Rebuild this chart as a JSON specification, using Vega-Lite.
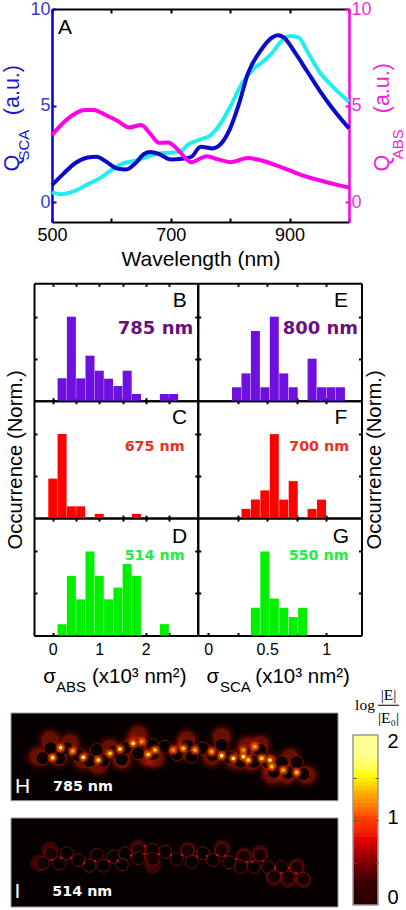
{"$schema":"https://vega.github.io/schema/vega-lite/v6.json","background":"white","width":406,"height":910,"padding":0,"autosize":{"type":"none"},"config":{"view":{"stroke":null},"font":"Liberation Sans","axis":{"grid":false}},"resolve":{"scale":{"x":"independent","y":"independent"},"axis":{"x":"independent","y":"independent"}},"datasets":{"rings":[{"x":31.7,"y":45.3},{"x":39.7,"y":35.3},{"x":48.3,"y":45.3},{"x":55.7,"y":35.3},{"x":67.3,"y":42},{"x":78.3,"y":47.7},{"x":85.7,"y":37},{"x":92.3,"y":47.7},{"x":102.3,"y":38.7},{"x":110.7,"y":46.3},{"x":114,"y":35.3},{"x":127.3,"y":32},{"x":127.3,"y":40.3},{"x":141.7,"y":32},{"x":141.7,"y":41},{"x":154,"y":33.7},{"x":165.7,"y":41},{"x":176.3,"y":32.7},{"x":180.7,"y":43.7},{"x":191.7,"y":35.3},{"x":201.7,"y":42},{"x":210.7,"y":32},{"x":218.3,"y":44.3},{"x":233,"y":38.7},{"x":229.7,"y":48.7},{"x":249,"y":37},{"x":243,"y":48.7},{"x":257.3,"y":49.3},{"x":270.7,"y":49.3},{"x":285.7,"y":49.3},{"x":263,"y":58.7},{"x":277.3,"y":59.7},{"x":292.3,"y":61}],"halosH":[{"x":39,"y":27},{"x":59,"y":30.3},{"x":27.3,"y":43.7},{"x":47,"y":43.7},{"x":72,"y":47},{"x":87.3,"y":52},{"x":99,"y":35.3},{"x":110.7,"y":47},{"x":127.3,"y":22},{"x":135.7,"y":43.7},{"x":144,"y":45.3},{"x":122,"y":32},{"x":175.7,"y":27},{"x":172.3,"y":37},{"x":210.7,"y":23.7},{"x":200.7,"y":43.7},{"x":235.7,"y":33.7},{"x":249,"y":32},{"x":224,"y":47},{"x":239,"y":48.7},{"x":259,"y":50.3},{"x":260.7,"y":62},{"x":275.7,"y":62},{"x":295.7,"y":62},{"x":279,"y":45}],"spotsH":[{"x":41.7,"y":44.7,"v":1.6},{"x":49.7,"y":34.7,"v":1.6},{"x":61.7,"y":38,"v":1.3},{"x":72.3,"y":44.3,"v":1.6},{"x":87.3,"y":47,"v":1.6},{"x":99,"y":40.3,"v":1.4},{"x":109,"y":36,"v":1.6},{"x":122.3,"y":30.3,"v":1.6},{"x":137.3,"y":41.3,"v":1.5},{"x":144,"y":37,"v":1.4},{"x":130.7,"y":28.7,"v":1.2},{"x":162.3,"y":37,"v":1.2},{"x":172.3,"y":35.3,"v":1.4},{"x":184,"y":37,"v":1.3},{"x":200.7,"y":38.7,"v":1.3},{"x":210.7,"y":42.7,"v":1.6},{"x":222.3,"y":45.3,"v":1.6},{"x":232.3,"y":43.7,"v":1.6},{"x":237.3,"y":47,"v":1.5},{"x":244,"y":33.7,"v":1.3},{"x":250.7,"y":45.3,"v":1.5},{"x":259,"y":47,"v":1.6},{"x":260.7,"y":53.7,"v":1.4},{"x":272.3,"y":57,"v":1.3},{"x":285.7,"y":59.3,"v":1.4},{"x":232.3,"y":37,"v":1.2}]},"layer":[{"resolve":{"axis":{"x":"independent","y":"independent"}},"layer":[{"data":{"values":[{"w":500,"v":0.5},{"w":515,"v":0.41},{"w":535,"v":0.54},{"w":560,"v":0.92},{"w":580,"v":1.23},{"w":600,"v":1.66},{"w":620,"v":2.0},{"w":640,"v":2.14},{"w":660,"v":2.35},{"w":680,"v":2.52},{"w":700,"v":2.56},{"w":715,"v":2.6},{"w":730,"v":3.0},{"w":750,"v":3.25},{"w":765,"v":3.42},{"w":780,"v":3.9},{"w":800,"v":4.94},{"w":820,"v":6.15},{"w":840,"v":6.93},{"w":855,"v":7.27},{"w":870,"v":7.7},{"w":885,"v":8.3},{"w":900,"v":8.6},{"w":915,"v":8.53},{"w":930,"v":7.79},{"w":950,"v":6.75},{"w":970,"v":6.06},{"w":1000,"v":5.2}]},"mark":{"type":"line","color":"#22eeee","strokeWidth":4,"interpolate":"monotone"},"encoding":{"x":{"field":"w","type":"quantitative","scale":{"domain":[500,1000],"range":[52,349],"nice":false},"axis":{"orient":"bottom","offset":-688,"values":[500,600,700,800,900,1000],"labelExpr":"datum.value==500||datum.value==700||datum.value==900?datum.label:''","labelFontSize":18,"labelColor":"black","tickSize":-4,"tickWidth":2,"tickColor":"black","domainColor":"black","domainWidth":2,"labelPadding":8,"labelFlush":false,"title":"Wavelength (nm)","titleFontSize":21,"titleFontWeight":"normal","titleColor":"black","titlePadding":4,"labelOverlap":false}},"y":{"field":"v","type":"quantitative","scale":{"domain":[-1.03,10],"range":[222,9],"nice":false},"axis":{"orient":"left","offset":-52,"values":[0,5,10],"labelFontSize":18,"labelColor":"#3a3ad0","tickSize":-4,"tickWidth":2,"tickColor":"#0505c8","domainColor":"#0505c8","domainWidth":2.5,"labelPadding":6,"title":null,"labelFlush":false,"labelOverlap":false}}}},{"data":{"values":[{"w":500,"v":0.88},{"w":520,"v":1.49},{"w":540,"v":2.04},{"w":560,"v":2.31},{"w":575,"v":2.35},{"w":590,"v":2.12},{"w":610,"v":1.74},{"w":625,"v":1.69},{"w":640,"v":2.0},{"w":655,"v":2.49},{"w":665,"v":2.59},{"w":680,"v":2.49},{"w":700,"v":2.21},{"w":720,"v":2.25},{"w":735,"v":2.35},{"w":750,"v":2.87},{"w":770,"v":2.78},{"w":785,"v":3.04},{"w":800,"v":3.82},{"w":815,"v":5.11},{"w":830,"v":6.67},{"w":850,"v":7.79},{"w":870,"v":8.51},{"w":880,"v":8.64},{"w":890,"v":8.53},{"w":910,"v":7.7},{"w":930,"v":6.75},{"w":950,"v":5.8},{"w":970,"v":4.94},{"w":1000,"v":3.82}]},"mark":{"type":"line","color":"#0a0ac8","strokeWidth":4,"interpolate":"monotone"},"encoding":{"x":{"field":"w","type":"quantitative","axis":null},"y":{"field":"v","type":"quantitative","axis":null}}},{"data":{"values":[{"w":500,"v":3.47},{"w":515,"v":3.99},{"w":535,"v":4.51},{"w":555,"v":4.77},{"w":570,"v":4.77},{"w":590,"v":4.51},{"w":610,"v":4.21},{"w":630,"v":3.87},{"w":650,"v":3.99},{"w":665,"v":3.56},{"w":680,"v":3.07},{"w":695,"v":3.09},{"w":710,"v":2.78},{"w":725,"v":2.26},{"w":735,"v":2.06},{"w":750,"v":2.26},{"w":760,"v":2.38},{"w":780,"v":2.21},{"w":800,"v":2.07},{"w":830,"v":2.28},{"w":850,"v":2.18},{"w":880,"v":1.88},{"w":920,"v":1.4},{"w":960,"v":1.05},{"w":1000,"v":0.76}]},"mark":{"type":"line","color":"#ff00e6","strokeWidth":4,"interpolate":"monotone"},"encoding":{"x":{"field":"w","type":"quantitative","axis":{"orient":"top","offset":-9,"values":[500,600,700,800,900,1000],"labels":false,"tickSize":-4,"tickWidth":2,"tickColor":"black","domainColor":"black","domainWidth":2,"title":null}},"y":{"field":"v","type":"quantitative","axis":{"orient":"right","offset":-57,"values":[0,5,10],"labelFontSize":18,"labelColor":"#ee30dd","tickSize":-4,"tickWidth":2,"tickColor":"#ff00e6","domainColor":"#ff00e6","domainWidth":2.5,"labelPadding":6,"title":null,"labelFlush":false,"labelOverlap":false}}}},{"data":{"values":[{"w":522,"v":9.0,"t":"A"}]},"mark":{"type":"text","fontSize":21,"color":"black"},"encoding":{"x":{"field":"w","type":"quantitative","axis":null},"y":{"field":"v","type":"quantitative","axis":null},"text":{"field":"t"}}},{"data":{"values":[{"w":434,"v":2.02,"t":"Q"},{"w":434,"v":5.8,"t":"(a.u.)"}]},"mark":{"type":"text","fontSize":21.5,"angle":270,"color":"#1818d0"},"encoding":{"x":{"field":"w","type":"quantitative","axis":null},"y":{"field":"v","type":"quantitative","axis":null},"text":{"field":"t"}}},{"data":{"values":[{"w":453,"v":2.95,"t":"SCA"}]},"mark":{"type":"text","fontSize":15,"angle":270,"color":"#1818d0"},"encoding":{"x":{"field":"w","type":"quantitative","axis":null},"y":{"field":"v","type":"quantitative","axis":null},"text":{"field":"t"}}},{"data":{"values":[{"w":1057,"v":2.02,"t":"Q"},{"w":1057,"v":5.9,"t":"(a.u.)"}]},"mark":{"type":"text","fontSize":21.5,"angle":270,"color":"#ee22dd"},"encoding":{"x":{"field":"w","type":"quantitative","axis":null},"y":{"field":"v","type":"quantitative","axis":null},"text":{"field":"t"}}},{"data":{"values":[{"w":1082,"v":3.0,"t":"ABS"}]},"mark":{"type":"text","fontSize":15,"angle":270,"color":"#ee22dd"},"encoding":{"x":{"field":"w","type":"quantitative","axis":null},"y":{"field":"v","type":"quantitative","axis":null},"text":{"field":"t"}}}]},{"resolve":{"axis":{"x":"independent","y":"independent"}},"layer":[{"data":{"values":[{"x":0.2,"y":0.266},{"x":0.4,"y":1},{"x":0.6,"y":0.266},{"x":0.8,"y":0.536},{"x":1.0,"y":0.357},{"x":1.2,"y":0.262},{"x":1.4,"y":0.175},{"x":1.6,"y":0.357},{"x":1.8,"y":0.08},{"x":2.4,"y":0.08},{"x":2.6,"y":0.08}]},"mark":{"type":"bar","size":9,"color":"#6f10e0"},"encoding":{"x":{"field":"x","type":"quantitative","scale":{"domain":[-0.297,3.011],"range":[34,197.75],"nice":false},"axis":{"orient":"bottom","offset":-509.3,"values":[0,0.5,1,1.5,2,2.5],"labels":false,"tickSize":-3,"tickWidth":2,"tickColor":"black","domainColor":"black","domainWidth":2,"title":null}},"y":{"field":"y","type":"quantitative","scale":{"domain":[0,1.3976],"range":[400.7,283.3],"nice":false},"axis":{"orient":"left","offset":-34,"values":[0.5,1],"labels":false,"tickSize":-3,"tickWidth":2,"tickColor":"black","domainColor":"black","domainWidth":2,"title":null}}}},{"data":{"values":[{"x":0.2,"y":0.266}]},"mark":{"type":"bar","size":9,"opacity":0},"encoding":{"x":{"field":"x","type":"quantitative","axis":{"orient":"top","offset":-283.3,"values":[0,0.5,1,1.5,2,2.5],"labels":false,"tickSize":-3,"tickWidth":2,"tickColor":"black","domainColor":"black","domainWidth":2,"title":null}},"y":{"field":"y","type":"quantitative","axis":{"orient":"right","offset":-208.25,"values":[0.5,1],"labels":false,"tickSize":-3,"tickWidth":2,"tickColor":"black","domainColor":"black","domainWidth":2,"title":null}}}},{"data":{"values":[{"x":2.73,"y":1.19,"t":"B"}]},"mark":{"type":"text","fontSize":21,"color":"black"},"encoding":{"x":{"field":"x","type":"quantitative","axis":null},"y":{"field":"y","type":"quantitative","axis":null},"text":{"field":"t"}}},{"data":{"values":[{"x":2.21,"y":0.85,"t":"785 nm"}]},"mark":{"type":"text","fontSize":18,"font":"DejaVu Sans","fontWeight":"bold","color":"#6a0f80"},"encoding":{"x":{"field":"x","type":"quantitative","axis":null},"y":{"field":"y","type":"quantitative","axis":null},"text":{"field":"t"}}}]},{"resolve":{"axis":{"x":"independent","y":"independent"}},"layer":[{"data":{"values":[{"x":0,"y":0.47},{"x":0.2,"y":1},{"x":0.4,"y":0.14},{"x":0.6,"y":0.14},{"x":1.0,"y":0.05},{"x":1.8,"y":0.05}]},"mark":{"type":"bar","size":9,"color":"#ff0000"},"encoding":{"x":{"field":"x","type":"quantitative","scale":{"domain":[-0.297,3.011],"range":[34,197.75],"nice":false},"axis":{"orient":"bottom","offset":-391.9,"values":[0,0.5,1,1.5,2,2.5],"labels":false,"tickSize":-3,"tickWidth":2,"tickColor":"black","domainColor":"black","domainWidth":2,"title":null}},"y":{"field":"y","type":"quantitative","scale":{"domain":[0,1.3976],"range":[518.1,400.7],"nice":false},"axis":{"orient":"left","offset":-34,"values":[0.5,1],"labels":false,"tickSize":-3,"tickWidth":2,"tickColor":"black","domainColor":"black","domainWidth":2,"title":"Occurrence (Norm.)","titleFontSize":20.3,"titleFontWeight":"normal","titleColor":"black","titlePadding":8}}}},{"data":{"values":[{"x":0.2,"y":1}]},"mark":{"type":"bar","size":9,"opacity":0},"encoding":{"x":{"field":"x","type":"quantitative","axis":{"orient":"top","offset":-400.7,"values":[0,0.5,1,1.5,2,2.5],"labels":false,"tickSize":-3,"tickWidth":2,"tickColor":"black","domainColor":"black","domainWidth":2,"title":null}},"y":{"field":"y","type":"quantitative","axis":{"orient":"right","offset":-208.25,"values":[0.5,1],"labels":false,"tickSize":-3,"tickWidth":2,"tickColor":"black","domainColor":"black","domainWidth":2,"title":null}}}},{"data":{"values":[{"x":2.73,"y":1.19,"t":"C"}]},"mark":{"type":"text","fontSize":21,"color":"black"},"encoding":{"x":{"field":"x","type":"quantitative","axis":null},"y":{"field":"y","type":"quantitative","axis":null},"text":{"field":"t"}}},{"data":{"values":[{"x":2.19,"y":0.845,"t":"675 nm"}]},"mark":{"type":"text","fontSize":14.3,"font":"DejaVu Sans","fontWeight":"bold","color":"#ee3020"},"encoding":{"x":{"field":"x","type":"quantitative","axis":null},"y":{"field":"y","type":"quantitative","axis":null},"text":{"field":"t"}}}]},{"resolve":{"axis":{"x":"independent","y":"independent"}},"layer":[{"data":{"values":[{"x":0.2,"y":0.135},{"x":0.4,"y":0.71},{"x":0.6,"y":0.43},{"x":0.8,"y":1},{"x":1.0,"y":0.71},{"x":1.2,"y":0.43},{"x":1.4,"y":0.57},{"x":1.6,"y":0.85},{"x":1.8,"y":0.71},{"x":2.4,"y":0.135}]},"mark":{"type":"bar","size":9,"color":"#00f000"},"encoding":{"x":{"field":"x","type":"quantitative","scale":{"domain":[-0.297,3.011],"range":[34,197.75],"nice":false},"axis":{"orient":"bottom","offset":-274.5,"values":[0,0.5,1,1.5,2,2.5],"format":"~g","labelExpr":"datum.value==0||datum.value==1||datum.value==2?datum.label:''","labelFontSize":16,"labelColor":"black","labelPadding":9,"labelOverlap":false,"labelFlush":false,"tickSize":-3,"tickWidth":2,"tickColor":"black","domainColor":"black","domainWidth":2,"title":null}},"y":{"field":"y","type":"quantitative","scale":{"domain":[0,1.3976],"range":[635.5,518.1],"nice":false},"axis":{"orient":"left","offset":-34,"values":[0.5,1],"labels":false,"tickSize":-3,"tickWidth":2,"tickColor":"black","domainColor":"black","domainWidth":2,"title":null}}}},{"data":{"values":[{"x":0.2,"y":0.135}]},"mark":{"type":"bar","size":9,"opacity":0},"encoding":{"x":{"field":"x","type":"quantitative","axis":{"orient":"top","offset":-518.1,"values":[0,0.5,1,1.5,2,2.5],"labels":false,"tickSize":-3,"tickWidth":2,"tickColor":"black","domainColor":"black","domainWidth":2,"title":null}},"y":{"field":"y","type":"quantitative","axis":{"orient":"right","offset":-208.25,"values":[0.5,1],"labels":false,"tickSize":-3,"tickWidth":2,"tickColor":"black","domainColor":"black","domainWidth":2,"title":null}}}},{"data":{"values":[{"x":2.73,"y":1.175,"t":"D"}]},"mark":{"type":"text","fontSize":21,"color":"black"},"encoding":{"x":{"field":"x","type":"quantitative","axis":null},"y":{"field":"y","type":"quantitative","axis":null},"text":{"field":"t"}}},{"data":{"values":[{"x":2.19,"y":0.95,"t":"514 nm"}]},"mark":{"type":"text","fontSize":14.3,"font":"DejaVu Sans","fontWeight":"bold","color":"#22ee44"},"encoding":{"x":{"field":"x","type":"quantitative","axis":null},"y":{"field":"y","type":"quantitative","axis":null},"text":{"field":"t"}}},{"data":{"values":[{"x":-0.07,"y":-0.49,"t":"σ"},{"x":1.86,"y":-0.49,"t":"(x10³ nm²)"}]},"mark":{"type":"text","fontSize":20.5,"color":"black"},"encoding":{"x":{"field":"x","type":"quantitative","axis":null},"y":{"field":"y","type":"quantitative","axis":null},"text":{"field":"t"}}},{"data":{"values":[{"x":0.39,"y":-0.61,"t":"ABS"}]},"mark":{"type":"text","fontSize":15,"color":"black"},"encoding":{"x":{"field":"x","type":"quantitative","axis":null},"y":{"field":"y","type":"quantitative","axis":null},"text":{"field":"t"}}}]},{"resolve":{"axis":{"x":"independent","y":"independent"}},"layer":[{"data":{"values":[{"x":0.24,"y":0.16},{"x":0.32,"y":0.325},{"x":0.4,"y":0.83},{"x":0.48,"y":0.16},{"x":0.56,"y":1},{"x":0.64,"y":0.325},{"x":0.72,"y":0.16},{"x":0.88,"y":0.5},{"x":0.96,"y":0.16},{"x":1.04,"y":0.16},{"x":1.12,"y":0.16}]},"mark":{"type":"bar","size":9,"color":"#6f10e0"},"encoding":{"x":{"field":"x","type":"quantitative","scale":{"domain":[-0.0457,1.256],"range":[197.75,361.5],"nice":false},"axis":{"orient":"bottom","offset":-509.3,"values":[0.25,0.5,0.75,1],"labels":false,"tickSize":-3,"tickWidth":2,"tickColor":"black","domainColor":"black","domainWidth":2,"title":null}},"y":{"field":"y","type":"quantitative","scale":{"domain":[0,1.3976],"range":[400.7,283.3],"nice":false},"axis":{"orient":"left","offset":-197.75,"values":[0.5,1],"labels":false,"tickSize":-3,"tickWidth":2,"tickColor":"black","domainColor":"black","domainWidth":2,"title":null}}}},{"data":{"values":[{"x":0.24,"y":0.16}]},"mark":{"type":"bar","size":9,"opacity":0},"encoding":{"x":{"field":"x","type":"quantitative","axis":{"orient":"top","offset":-283.3,"values":[0.25,0.5,0.75,1],"labels":false,"tickSize":-3,"tickWidth":2,"tickColor":"black","domainColor":"black","domainWidth":2,"title":null}},"y":{"field":"y","type":"quantitative","axis":{"orient":"right","offset":-44.5,"values":[0.5,1],"labels":false,"tickSize":-3,"tickWidth":2,"tickColor":"black","domainColor":"black","domainWidth":2,"title":null}}}},{"data":{"values":[{"x":1.125,"y":1.19,"t":"E"}]},"mark":{"type":"text","fontSize":21,"color":"black"},"encoding":{"x":{"field":"x","type":"quantitative","axis":null},"y":{"field":"y","type":"quantitative","axis":null},"text":{"field":"t"}}},{"data":{"values":[{"x":0.95,"y":0.85,"t":"800 nm"}]},"mark":{"type":"text","fontSize":18,"font":"DejaVu Sans","fontWeight":"bold","color":"#6a0f80"},"encoding":{"x":{"field":"x","type":"quantitative","axis":null},"y":{"field":"y","type":"quantitative","axis":null},"text":{"field":"t"}}}]},{"resolve":{"axis":{"x":"independent","y":"independent"}},"layer":[{"data":{"values":[{"x":0.32,"y":0.11},{"x":0.4,"y":0.22},{"x":0.48,"y":0.33},{"x":0.56,"y":1},{"x":0.64,"y":0.22},{"x":0.72,"y":0.44},{"x":0.88,"y":0.11},{"x":0.96,"y":0.22}]},"mark":{"type":"bar","size":9,"color":"#ff0000"},"encoding":{"x":{"field":"x","type":"quantitative","scale":{"domain":[-0.0457,1.256],"range":[197.75,361.5],"nice":false},"axis":{"orient":"bottom","offset":-391.9,"values":[0.25,0.5,0.75,1],"labels":false,"tickSize":-3,"tickWidth":2,"tickColor":"black","domainColor":"black","domainWidth":2,"title":null}},"y":{"field":"y","type":"quantitative","scale":{"domain":[0,1.3976],"range":[518.1,400.7],"nice":false},"axis":{"orient":"left","offset":-197.75,"values":[0.5,1],"labels":false,"tickSize":-3,"tickWidth":2,"tickColor":"black","domainColor":"black","domainWidth":2,"title":null}}}},{"data":{"values":[{"x":0.56,"y":1}]},"mark":{"type":"bar","size":9,"opacity":0},"encoding":{"x":{"field":"x","type":"quantitative","axis":{"orient":"top","offset":-400.7,"values":[0.25,0.5,0.75,1],"labels":false,"tickSize":-3,"tickWidth":2,"tickColor":"black","domainColor":"black","domainWidth":2,"title":null}},"y":{"field":"y","type":"quantitative","axis":{"orient":"right","offset":-44.5,"values":[0.5,1],"labels":false,"tickSize":-3,"tickWidth":2,"tickColor":"black","domainColor":"black","domainWidth":2,"title":"Occurrence (Norm.)","titleAngle":270,"titleFontSize":20.3,"titleFontWeight":"normal","titleColor":"black","titlePadding":22}}}},{"data":{"values":[{"x":1.125,"y":1.19,"t":"F"}]},"mark":{"type":"text","fontSize":21,"color":"black"},"encoding":{"x":{"field":"x","type":"quantitative","axis":null},"y":{"field":"y","type":"quantitative","axis":null},"text":{"field":"t"}}},{"data":{"values":[{"x":0.94,"y":0.845,"t":"700 nm"}]},"mark":{"type":"text","fontSize":14.3,"font":"DejaVu Sans","fontWeight":"bold","color":"#ee3020"},"encoding":{"x":{"field":"x","type":"quantitative","axis":null},"y":{"field":"y","type":"quantitative","axis":null},"text":{"field":"t"}}}]},{"resolve":{"axis":{"x":"independent","y":"independent"}},"layer":[{"data":{"values":[{"x":0.4,"y":0.33},{"x":0.48,"y":1},{"x":0.56,"y":0.44},{"x":0.64,"y":0.33},{"x":0.72,"y":0.22},{"x":0.8,"y":0.33}]},"mark":{"type":"bar","size":9,"color":"#00f000"},"encoding":{"x":{"field":"x","type":"quantitative","scale":{"domain":[-0.0457,1.256],"range":[197.75,361.5],"nice":false},"axis":{"orient":"bottom","offset":-274.5,"values":[0,0.25,0.5,0.75,1],"format":"~g","labelExpr":"datum.value==0||datum.value==0.5||datum.value==1?datum.label:''","labelFontSize":16,"labelColor":"black","labelPadding":9,"labelOverlap":false,"labelFlush":false,"tickSize":-3,"tickWidth":2,"tickColor":"black","domainColor":"black","domainWidth":2,"title":null}},"y":{"field":"y","type":"quantitative","scale":{"domain":[0,1.3976],"range":[635.5,518.1],"nice":false},"axis":{"orient":"left","offset":-197.75,"values":[0.5,1],"labels":false,"tickSize":-3,"tickWidth":2,"tickColor":"black","domainColor":"black","domainWidth":2,"title":null}}}},{"data":{"values":[{"x":0.48,"y":1}]},"mark":{"type":"bar","size":9,"opacity":0},"encoding":{"x":{"field":"x","type":"quantitative","axis":{"orient":"top","offset":-518.1,"values":[0.25,0.5,0.75,1],"labels":false,"tickSize":-3,"tickWidth":2,"tickColor":"black","domainColor":"black","domainWidth":2,"title":null}},"y":{"field":"y","type":"quantitative","axis":{"orient":"right","offset":-44.5,"values":[0.5,1],"labels":false,"tickSize":-3,"tickWidth":2,"tickColor":"black","domainColor":"black","domainWidth":2,"title":null}}}},{"data":{"values":[{"x":1.125,"y":1.175,"t":"G"}]},"mark":{"type":"text","fontSize":21,"color":"black"},"encoding":{"x":{"field":"x","type":"quantitative","axis":null},"y":{"field":"y","type":"quantitative","axis":null},"text":{"field":"t"}}},{"data":{"values":[{"x":0.935,"y":0.95,"t":"550 nm"}]},"mark":{"type":"text","fontSize":14.3,"font":"DejaVu Sans","fontWeight":"bold","color":"#22ee44"},"encoding":{"x":{"field":"x","type":"quantitative","axis":null},"y":{"field":"y","type":"quantitative","axis":null},"text":{"field":"t"}}},{"data":{"values":[{"x":0.04,"y":-0.49,"t":"σ"},{"x":0.8,"y":-0.49,"t":"(x10³ nm²)"}]},"mark":{"type":"text","fontSize":20.5,"color":"black"},"encoding":{"x":{"field":"x","type":"quantitative","axis":null},"y":{"field":"y","type":"quantitative","axis":null},"text":{"field":"t"}}},{"data":{"values":[{"x":0.23,"y":-0.61,"t":"SCA"}]},"mark":{"type":"text","fontSize":15,"color":"black"},"encoding":{"x":{"field":"x","type":"quantitative","axis":null},"y":{"field":"y","type":"quantitative","axis":null},"text":{"field":"t"}}}]},{"layer":[{"data":{"values":[{"x":0,"x2":327,"y":0,"y2":87.7}]},"mark":{"type":"rect","fill":"#060000","stroke":"#999999","strokeWidth":1},"encoding":{"x":{"field":"x","type":"quantitative","scale":{"domain":[0,327],"range":[11,338],"nice":false},"axis":null},"x2":{"field":"x2"},"y":{"field":"y","type":"quantitative","scale":{"domain":[0,87.7],"range":[713,800.7],"nice":false},"axis":null},"y2":{"field":"y2"}}},{"data":{"name":"halosH"},"mark":{"type":"point","filled":true,"size":850,"opacity":0.06,"color":"#c01800"},"encoding":{"x":{"field":"x","type":"quantitative","axis":null},"y":{"field":"y","type":"quantitative","axis":null}}},{"data":{"name":"halosH"},"mark":{"type":"point","filled":true,"size":620,"opacity":0.09,"color":"#d01c00"},"encoding":{"x":{"field":"x","type":"quantitative","axis":null},"y":{"field":"y","type":"quantitative","axis":null}}},{"data":{"name":"halosH"},"mark":{"type":"point","filled":true,"size":430,"opacity":0.14,"color":"#e82400"},"encoding":{"x":{"field":"x","type":"quantitative","axis":null},"y":{"field":"y","type":"quantitative","axis":null}}},{"data":{"name":"halosH"},"mark":{"type":"point","filled":true,"size":290,"opacity":0.22,"color":"#ff3000"},"encoding":{"x":{"field":"x","type":"quantitative","axis":null},"y":{"field":"y","type":"quantitative","axis":null}}},{"data":{"name":"rings"},"mark":{"type":"point","filled":true,"size":170,"fill":"#060000","fillOpacity":0.92,"stroke":"#781808","strokeWidth":0.9,"strokeOpacity":1,"opacity":1},"encoding":{"x":{"field":"x","type":"quantitative","axis":null},"y":{"field":"y","type":"quantitative","axis":null}}},{"data":{"name":"spotsH"},"mark":{"type":"point","filled":true,"size":130,"opacity":0.3,"color":"#ff2800"},"encoding":{"x":{"field":"x","type":"quantitative","axis":null},"y":{"field":"y","type":"quantitative","axis":null}}},{"data":{"name":"spotsH"},"mark":{"type":"point","filled":true,"size":60,"opacity":0.55,"color":"#ff6a00"},"encoding":{"x":{"field":"x","type":"quantitative","axis":null},"y":{"field":"y","type":"quantitative","axis":null}}},{"data":{"name":"spotsH"},"mark":{"type":"point","filled":true,"size":14,"opacity":0.95},"encoding":{"x":{"field":"x","type":"quantitative","axis":null},"y":{"field":"y","type":"quantitative","axis":null},"color":{"field":"v","type":"quantitative","scale":{"domain":[0,0.25,0.5,0.75,1,1.25,1.5,1.75,2],"range":["#000000","#3a0000","#8a0000","#e80000","#ff4000","#ffa000","#ffff00","#ffff90","#ffffff"]},"legend":null}}},{"data":{"values":[{"x":11.7,"y":74,"t":"H"}]},"mark":{"type":"text","fontSize":21,"color":"white"},"encoding":{"x":{"field":"x","type":"quantitative","axis":null},"y":{"field":"y","type":"quantitative","axis":null},"text":{"field":"t"}}},{"data":{"values":[{"x":72,"y":73.7,"t":"785 nm"}]},"mark":{"type":"text","fontSize":14.3,"font":"DejaVu Sans","fontWeight":"bold","color":"white"},"encoding":{"x":{"field":"x","type":"quantitative","axis":null},"y":{"field":"y","type":"quantitative","axis":null},"text":{"field":"t"}}}]},{"layer":[{"data":{"values":[{"x":0,"x2":327,"y":0,"y2":89}]},"mark":{"type":"rect","fill":"#060000","stroke":"#999999","strokeWidth":1},"encoding":{"x":{"field":"x","type":"quantitative","scale":{"domain":[0,327],"range":[11,338],"nice":false},"axis":null},"x2":{"field":"x2"},"y":{"field":"y","type":"quantitative","scale":{"domain":[0,89],"range":[818,907],"nice":false},"axis":null},"y2":{"field":"y2"}}},{"data":{"values":[{"x":39,"y":32},{"x":27.3,"y":45.3},{"x":127,"y":30},{"x":141.7,"y":47},{"x":177.3,"y":32},{"x":210.7,"y":30.3},{"x":233,"y":37.7},{"x":249,"y":35.3},{"x":292.3,"y":62},{"x":263,"y":60},{"x":285.7,"y":48.7},{"x":277.3,"y":62}]},"mark":{"type":"point","filled":true,"size":290,"opacity":0.45,"color":"#7a0808"},"encoding":{"x":{"field":"x","type":"quantitative","axis":null},"y":{"field":"y","type":"quantitative","axis":null}}},{"data":{"name":"rings"},"mark":{"type":"point","filled":true,"size":170,"fill":"#060000","fillOpacity":0.7,"stroke":"#7a0c0c","strokeWidth":0.9,"opacity":1},"encoding":{"x":{"field":"x","type":"quantitative","axis":null},"y":{"field":"y","type":"quantitative","axis":null}}},{"data":{"values":[{"x":40.7,"y":42},{"x":50,"y":40},{"x":60,"y":40},{"x":73,"y":45},{"x":84,"y":43},{"x":98,"y":43},{"x":107,"y":43},{"x":120,"y":37},{"x":134,"y":36},{"x":134,"y":28},{"x":148,"y":36},{"x":160,"y":37},{"x":171,"y":37},{"x":186,"y":38},{"x":196,"y":38},{"x":206,"y":37},{"x":214,"y":38},{"x":225,"y":41},{"x":236,"y":44},{"x":241,"y":44},{"x":252,"y":43},{"x":264,"y":50},{"x":278,"y":50},{"x":270,"y":55},{"x":285,"y":55}]},"mark":{"type":"point","filled":true,"size":7,"color":"#c81010","opacity":0.9},"encoding":{"x":{"field":"x","type":"quantitative","axis":null},"y":{"field":"y","type":"quantitative","axis":null}}},{"data":{"values":[{"x":6.3,"y":73.7,"t":"I"}]},"mark":{"type":"text","fontSize":21,"color":"white"},"encoding":{"x":{"field":"x","type":"quantitative","axis":null},"y":{"field":"y","type":"quantitative","axis":null},"text":{"field":"t"}}},{"data":{"values":[{"x":71.3,"y":74,"t":"514 nm"}]},"mark":{"type":"text","fontSize":14.3,"font":"DejaVu Sans","fontWeight":"bold","color":"white"},"encoding":{"x":{"field":"x","type":"quantitative","axis":null},"y":{"field":"y","type":"quantitative","axis":null},"text":{"field":"t"}}}]},{"resolve":{"axis":{"y":"independent"}},"layer":[{"data":{"values":[{"lo":0,"hi":0.06},{"lo":0.05,"hi":0.11},{"lo":0.1,"hi":0.16},{"lo":0.15,"hi":0.21},{"lo":0.2,"hi":0.26},{"lo":0.25,"hi":0.31},{"lo":0.3,"hi":0.36},{"lo":0.35,"hi":0.41},{"lo":0.4,"hi":0.46},{"lo":0.45,"hi":0.51},{"lo":0.5,"hi":0.56},{"lo":0.55,"hi":0.61},{"lo":0.6,"hi":0.66},{"lo":0.65,"hi":0.71},{"lo":0.7,"hi":0.76},{"lo":0.75,"hi":0.81},{"lo":0.8,"hi":0.86},{"lo":0.85,"hi":0.91},{"lo":0.9,"hi":0.96},{"lo":0.95,"hi":1.01},{"lo":1.0,"hi":1.06},{"lo":1.05,"hi":1.11},{"lo":1.1,"hi":1.16},{"lo":1.15,"hi":1.21},{"lo":1.2,"hi":1.26},{"lo":1.25,"hi":1.31},{"lo":1.3,"hi":1.36},{"lo":1.35,"hi":1.41},{"lo":1.4,"hi":1.46},{"lo":1.45,"hi":1.51},{"lo":1.5,"hi":1.56},{"lo":1.55,"hi":1.61},{"lo":1.6,"hi":1.66},{"lo":1.65,"hi":1.71},{"lo":1.7,"hi":1.76},{"lo":1.75,"hi":1.81},{"lo":1.8,"hi":1.86},{"lo":1.85,"hi":1.91},{"lo":1.9,"hi":1.96},{"lo":1.95,"hi":2}]},"mark":{"type":"rect"},"encoding":{"x":{"datum":0,"type":"quantitative","scale":{"domain":[0,1],"range":[353,378],"nice":false},"axis":null},"x2":{"datum":1},"y":{"field":"lo","type":"quantitative","scale":{"domain":[0,2],"range":[905,735],"nice":false},"axis":{"orient":"left","offset":-353,"values":[0.5,1,1.5],"labels":false,"tickSize":-3,"tickColor":"#555555","domain":false,"title":null,"zindex":1}},"y2":{"field":"hi"},"color":{"field":"lo","type":"quantitative","scale":{"domain":[0,0.25,0.5,0.75,1,1.25,1.5,1.75,2],"range":["#000000","#3a0000","#8a0000","#e80000","#ff4000","#ffa000","#ffff00","#ffff90","#ffffff"]},"legend":null}}},{"data":{"values":[{"lo":0,"hi":2}]},"mark":{"type":"rect","fillOpacity":0,"stroke":"#999999","strokeWidth":1.5},"encoding":{"x":{"datum":0,"type":"quantitative","axis":null},"x2":{"datum":1},"y":{"field":"lo","type":"quantitative","axis":{"orient":"right","offset":-28,"values":[0.5,1,1.5],"labels":false,"tickSize":-3,"tickColor":"#555555","domain":false,"title":null,"zindex":1}},"y2":{"field":"hi"}}},{"data":{"values":[{"x":1.6,"y":1.92,"t":"2"},{"x":1.6,"y":1.02,"t":"1"},{"x":1.6,"y":0.08,"t":"0"}]},"mark":{"type":"text","fontSize":20,"color":"black"},"encoding":{"x":{"field":"x","type":"quantitative","axis":null},"y":{"field":"y","type":"quantitative","axis":null},"text":{"field":"t"}}},{"data":{"values":[{"x":0.48,"y":2.35,"t":"log"},{"x":1.42,"y":2.47,"t":"|E|"},{"x":1.42,"y":2.2,"t":"|E₀|"}]},"mark":{"type":"text","fontSize":15.5,"font":"Liberation Serif","color":"black"},"encoding":{"x":{"field":"x","type":"quantitative","axis":null},"y":{"field":"y","type":"quantitative","axis":null},"text":{"field":"t"}}},{"data":{"values":[{"x":1.0,"x2":1.84,"y":2.35}]},"mark":{"type":"rule","color":"black","strokeWidth":1},"encoding":{"x":{"field":"x","type":"quantitative","axis":null},"x2":{"field":"x2"},"y":{"field":"y","type":"quantitative","axis":null}}}]}]}
